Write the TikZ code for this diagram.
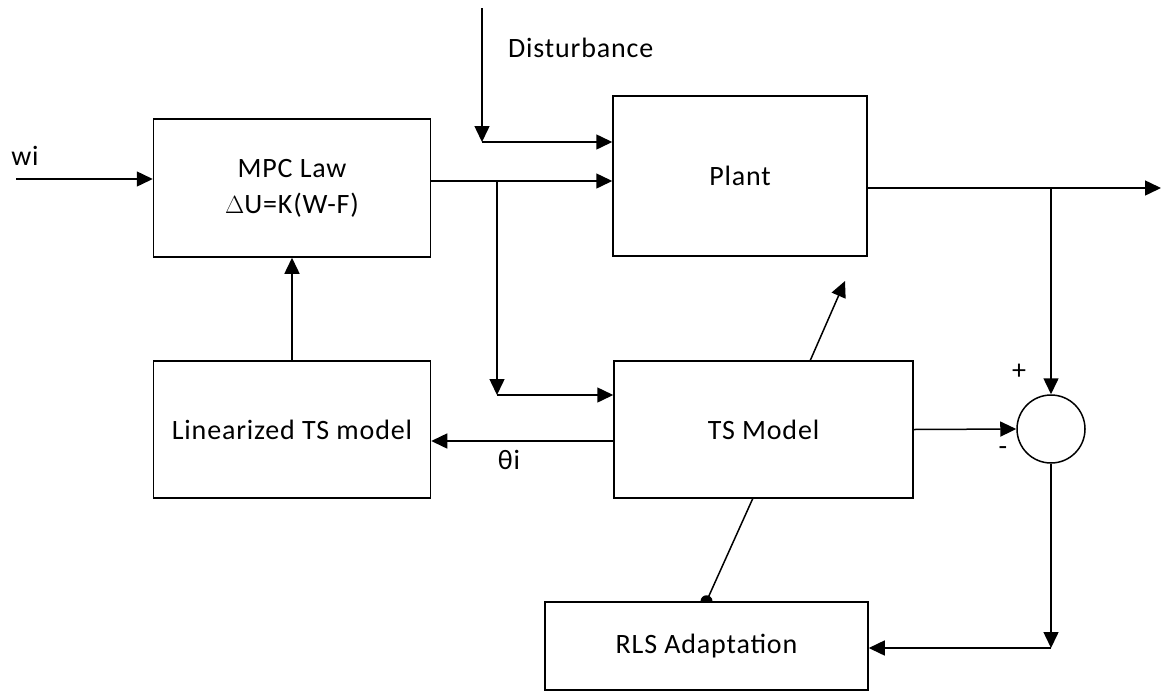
\documentclass[tikz,border=0pt]{standalone}
\usepackage{fontspec}
\setmainfont{Carlito}[LetterSpace=3]
\usetikzlibrary{arrows.meta}
\begin{document}
\begin{tikzpicture}[x=1pt,y=-1pt,
  every node/.style={font=\fontsize{28}{36}\selectfont},
  blk/.style={draw,line width=1.5pt,inner sep=0pt,align=center},
  conn/.style={line width=1.5pt},
  arr/.style={conn,-{Triangle[length=16pt,width=15pt]}},
  lbl/.style={inner sep=0pt}]
\useasboundingbox (0,0) rectangle (1162,694);
% blocks
\node[blk,minimum width=277pt,minimum height=138pt] (mpc) at (292,188) {MPC Law\\$\Delta$U=K(W-F)};
\node[blk,minimum width=254pt,minimum height=160pt] (plant) at (740,176) {Plant};
\node[blk,minimum width=277pt,minimum height=137pt] (lin) at (292,429.5) {Linearized TS model};
\node[blk,minimum width=299pt,minimum height=137pt] (ts) at (763.5,429.5) {TS Model};
\node[blk,minimum width=323pt,minimum height=88pt] (rls) at (706.5,646) {RLS Adaptation};
\node[blk,circle,minimum size=68pt] (sum) at (1051,429) {};
% labels
\node[lbl] (wi) at (25,156) {wi};
\node[lbl,anchor=west] (dist) at (508,48) {Disturbance};
\node[lbl] (theta) at (509,460) {θi};
\node[lbl] (plus) at (1019,372) {+};
\node[lbl] (minus) at (1003,451) {-};
% coordinates
\coordinate (win) at (16,179);
\coordinate (dtop) at (482,8);
\coordinate (dbend) at (482,142);
\coordinate (mo) at ([yshift=7pt]mpc.east);
\coordinate (br) at (497,181);
\coordinate (bd) at (497,395);
\coordinate (tsl) at ([yshift=-11.5pt]ts.west);
\coordinate (po) at ([yshift=-12pt]plant.east);
\coordinate (out) at (1161,188);
\coordinate (pb) at (1051,188);
\coordinate (sb) at (1051,648);
\coordinate (tsup) at (810,361);
\coordinate (tsupend) at (845,281);
\coordinate (tsdn) at (753,498);
% connectors
\draw[arr] (win) -- (win -| mpc.west);
\draw[arr] (dtop) -- (dbend);
\draw[arr] (dbend) -- (dbend -| plant.west);
\draw[arr] (mo) -- (mo -| plant.west);
\draw[arr] (br) -- (bd);
\draw[arr] (bd) -- (bd -| ts.west);
\draw[arr] (lin.north) -- (mpc.south);
\draw[arr] (tsl) -- (tsl -| lin.east);
\draw[arr] (po) -- (out);
\draw[arr] (pb) -- (sum.north);
\draw[arr] (ts.east) -- (sum.west);
\draw[arr] (sum.south) -- (sb);
\draw[arr] (sb) -- (sb -| rls.east);
\draw[arr] (tsup) -- (tsupend);
\draw[conn] (tsdn) -- (rls.north);
\fill ([xshift=-6pt]rls.north) arc[start angle=180,end angle=0,radius=6pt] -- cycle;
\end{tikzpicture}
\end{document}
